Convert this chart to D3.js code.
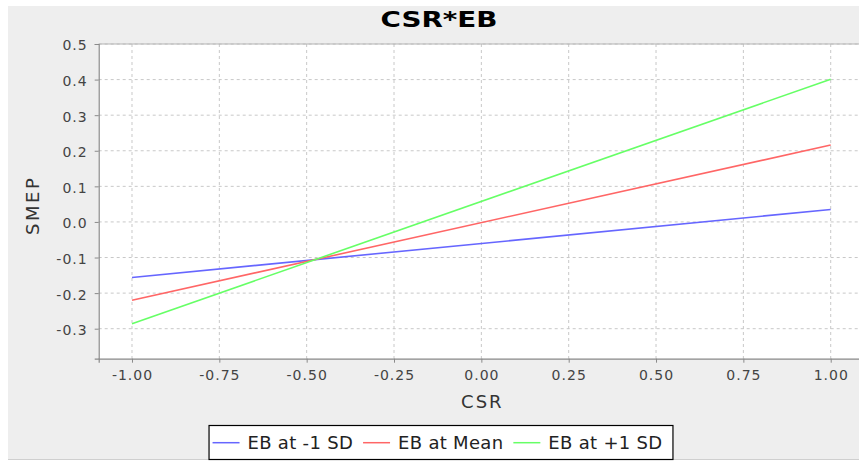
<!DOCTYPE html>
<html>
<head>
<meta charset="utf-8">
<script src="https://cdn.jsdelivr.net/npm/d3@7/dist/d3.min.js"></script>
<style>
  html, body { margin: 0; padding: 0; background: #ffffff; }
  svg { display: block; }
  text { font-family: "DejaVu Sans", sans-serif; }
</style>
</head>
<body>
<svg id="chart" width="859" height="461"></svg>
<script>
// ---- data ----
const title = "CSR*EB";
const xLabel = "CSR";
const yLabel = "SMEP";
const csrValues = [-1.0, 1.0];
const seriesNames = ["EB at -1 SD", "EB at Mean", "EB at +1 SD"];
const seriesColors = ["#6666ff", "#ff6666", "#66ff66"];
const lowEB = [-0.156, 0.035];
const meanEB = [-0.220, 0.216];
const highEB = [-0.286, 0.401];
const xTicks = [-1.0, -0.75, -0.5, -0.25, 0.0, 0.25, 0.5, 0.75, 1.0];
const xTickLabels = ["-1.00", "-0.75", "-0.50", "-0.25", "0.00", "0.25", "0.50", "0.75", "1.00"];
const yTicks = [0.5, 0.4, 0.3, 0.2, 0.1, 0.0, -0.1, -0.2, -0.3];
const yTickLabels = ["0.5", "0.4", "0.3", "0.2", "0.1", "0.0", "-0.1", "-0.2", "-0.3"];
const xDomain = [-1.0953, 1.0953];
const yDomain = [-0.3843, 0.5];

const seriesValues = [lowEB, meanEB, highEB];

// ---- layout ----
const W = 859, H = 461;
const plot = { left: 98.7, right: 864, top: 44, bottom: 358.7 };

const svg = d3.select("#chart");

// outer background
svg.append("rect").attr("x", 0).attr("y", 0).attr("width", W).attr("height", H).attr("fill", "#ffffff");
svg.append("rect").attr("x", 8).attr("y", 6).attr("width", W - 8).attr("height", 453).attr("fill", "#eeeeee");
svg.append("line").attr("x1", 8).attr("x2", W).attr("y1", 459.5).attr("y2", 459.5)
  .attr("stroke", "#cfcfcf").attr("stroke-width", 1);

const x = d3.scaleLinear().domain(xDomain).range([plot.left, plot.right]);
const y = d3.scaleLinear().domain(yDomain).range([plot.bottom, plot.top]);

// plot background
svg.append("rect")
  .attr("x", plot.left).attr("y", plot.top)
  .attr("width", plot.right - plot.left).attr("height", plot.bottom - plot.top)
  .attr("fill", "#ffffff");

// gridlines
const grid = svg.append("g");
grid.selectAll("line.vx").data(xTicks).enter().append("line")
  .attr("x1", d => x(d)).attr("x2", d => x(d))
  .attr("y1", plot.top).attr("y2", plot.bottom)
  .attr("stroke", "#c8c8c8").attr("stroke-width", 1).attr("stroke-dasharray", "3,3");
grid.selectAll("line.hy").data(yTicks).enter().append("line")
  .attr("x1", plot.left).attr("x2", plot.right)
  .attr("y1", d => y(d)).attr("y2", d => y(d))
  .attr("stroke", "#c8c8c8").attr("stroke-width", 1).attr("stroke-dasharray", "3,3");

// top border of plot
svg.append("line").attr("x1", plot.left).attr("x2", plot.right)
  .attr("y1", plot.top).attr("y2", plot.top).attr("stroke", "#b4b4b4");

// series lines
const lineGen = d3.line().x(d => x(d[0])).y(d => y(d[1]));
seriesValues.forEach((vals, i) => {
  const pts = csrValues.map((c, j) => [c, vals[j]]);
  svg.append("path").datum(pts)
    .attr("d", lineGen)
    .attr("fill", "none")
    .attr("stroke", seriesColors[i])
    .attr("stroke-width", 1.6);
});

// axes
const xAxis = d3.axisBottom(x).tickValues(xTicks)
  .tickFormat((d, i) => xTickLabels[i]).tickSize(4).tickPadding(7);
const yAxis = d3.axisLeft(y).tickValues(yTicks)
  .tickFormat((d, i) => yTickLabels[i]).tickSize(4).tickPadding(7);

const gx = svg.append("g").attr("transform", `translate(0,${plot.bottom})`).call(xAxis);
const gy = svg.append("g").attr("transform", `translate(${plot.left},0)`).call(yAxis);

[gx, gy].forEach(g => {
  g.select(".domain").attr("stroke", "#8a8a8a").attr("stroke-width", 1.2);
  g.selectAll(".tick line").attr("stroke", "#8a8a8a");
  g.selectAll(".tick text")
    .attr("fill", "#444444")
    .style("font-size", "14px")
    .style("letter-spacing", "1px")
    .style("font-family", "'DejaVu Sans', sans-serif");
});
gy.selectAll(".tick text").attr("dy", "0.42em");

// axis labels
svg.append("text")
  .attr("x", x(0) + 1).attr("y", 407.7)
  .attr("text-anchor", "middle")
  .attr("fill", "#333333")
  .style("font-size", "18px")
  .style("letter-spacing", "2px")
  .text(xLabel);

svg.append("text")
  .attr("transform", `translate(38.5,${(plot.top + plot.bottom) / 2 + 4}) rotate(-90)`)
  .attr("text-anchor", "middle")
  .attr("fill", "#333333")
  .style("font-size", "18px")
  .style("letter-spacing", "2.5px")
  .text(yLabel);

// title
svg.append("text")
  .attr("x", 439).attr("y", 27)
  .attr("text-anchor", "middle")
  .attr("fill", "#000000")
  .style("font-size", "21px")
  .style("font-weight", "bold")
  .attr("textLength", 117)
  .attr("lengthAdjust", "spacingAndGlyphs")
  .text(title);

// legend
const legend = svg.append("g");
const lgFont = 18, lineLen = 27, lineGap = 8, itemGap = 10, padL = 4, padR = 10;
const lgCenter = 440.5, lgTop = 425, lgBottom = 459;
const items = [];
let cursor = 0;
const tmp = legend.append("g");
seriesNames.forEach((name, i) => {
  const t = tmp.append("text").style("font-size", lgFont + "px").style("letter-spacing", "0.3px").text(name);
  const w = t.node().getComputedTextLength();
  items.push({ name, color: seriesColors[i], start: cursor, w });
  cursor += lineLen + lineGap + w + (i < seriesNames.length - 1 ? itemGap : 0);
  t.remove();
});
tmp.remove();
const boxW = padL + cursor + padR;
const boxX = lgCenter - boxW / 2;
legend.append("rect")
  .attr("x", boxX + 0.5).attr("y", lgTop + 0.5)
  .attr("width", boxW).attr("height", lgBottom - lgTop)
  .attr("fill", "#ffffff").attr("stroke", "#000000").attr("stroke-width", 1.2);
items.forEach(it => {
  const sx = boxX + padL + it.start;
  legend.append("line")
    .attr("x1", sx).attr("x2", sx + lineLen)
    .attr("y1", 442.7).attr("y2", 442.7)
    .attr("stroke", it.color).attr("stroke-width", 1.5);
  legend.append("text")
    .attr("x", sx + lineLen + lineGap).attr("y", 449.3)
    .attr("fill", "#222222")
    .style("font-size", lgFont + "px")
    .style("letter-spacing", "0.3px")
    .text(it.name);
});
</script>
</body>
</html>
